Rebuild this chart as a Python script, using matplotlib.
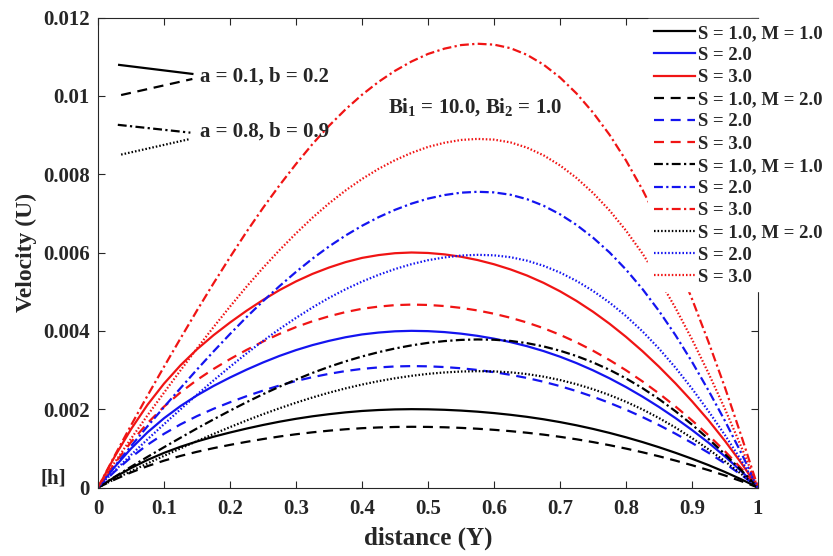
import matplotlib
matplotlib.use("Agg")
import matplotlib.pyplot as plt

plt.rcParams['font.family'] = ['Liberation Serif', 'DejaVu Serif']
plt.rcParams['font.weight'] = 'bold'
plt.rcParams['mathtext.fontset'] = 'custom'
plt.rcParams['mathtext.rm'] = 'Liberation Serif:bold'
plt.rcParams['mathtext.it'] = 'Liberation Serif:bold'
plt.rcParams['mathtext.bf'] = 'Liberation Serif:bold'

# distance Y
Y = [0.0, 0.025, 0.05, 0.075, 0.1, 0.125, 0.15, 0.175, 0.2, 0.225, 0.25, 0.275, 0.3, 0.325,
     0.35, 0.375, 0.4, 0.425, 0.45, 0.475, 0.5, 0.525, 0.55, 0.575, 0.6, 0.625, 0.65, 0.675,
     0.7, 0.725, 0.75, 0.775, 0.8, 0.825, 0.85, 0.875, 0.9, 0.925, 0.95, 0.975, 1.0]

# a = 0.1, b = 0.2, M = 1.0 (solid lines), velocity U
u_s1_m1_ab1 = [0, 0.260e-3, 0.496e-3, 0.704e-3, 0.884e-3, 1.040e-3, 1.176e-3, 1.296e-3, 1.404e-3, 1.504e-3,
               1.596e-3, 1.680e-3, 1.754e-3, 1.818e-3, 1.872e-3, 1.918e-3, 1.954e-3, 1.978e-3, 1.994e-3, 2.000e-3,
               1.996e-3, 1.984e-3, 1.964e-3, 1.936e-3, 1.900e-3, 1.856e-3, 1.804e-3, 1.742e-3, 1.670e-3, 1.588e-3,
               1.496e-3, 1.394e-3, 1.282e-3, 1.160e-3, 1.028e-3, 0.886e-3, 0.734e-3, 0.572e-3, 0.396e-3, 0.206e-3, 0]
u_s2_m1_ab1 = [0, 0.520e-3, 0.992e-3, 1.408e-3, 1.768e-3, 2.080e-3, 2.352e-3, 2.592e-3, 2.808e-3, 3.008e-3,
               3.192e-3, 3.360e-3, 3.508e-3, 3.636e-3, 3.744e-3, 3.836e-3, 3.908e-3, 3.956e-3, 3.988e-3, 4.000e-3,
               3.992e-3, 3.968e-3, 3.928e-3, 3.872e-3, 3.800e-3, 3.712e-3, 3.608e-3, 3.484e-3, 3.340e-3, 3.176e-3,
               2.992e-3, 2.788e-3, 2.564e-3, 2.320e-3, 2.056e-3, 1.772e-3, 1.468e-3, 1.144e-3, 0.792e-3, 0.412e-3, 0]
u_s3_m1_ab1 = [0, 0.780e-3, 1.488e-3, 2.112e-3, 2.652e-3, 3.120e-3, 3.528e-3, 3.888e-3, 4.212e-3, 4.512e-3,
               4.788e-3, 5.040e-3, 5.262e-3, 5.454e-3, 5.616e-3, 5.754e-3, 5.862e-3, 5.934e-3, 5.982e-3, 6.000e-3,
               5.988e-3, 5.952e-3, 5.892e-3, 5.808e-3, 5.700e-3, 5.568e-3, 5.412e-3, 5.226e-3, 5.010e-3, 4.764e-3,
               4.488e-3, 4.182e-3, 3.846e-3, 3.480e-3, 3.084e-3, 2.658e-3, 2.202e-3, 1.716e-3, 1.188e-3, 0.618e-3, 0]
# a = 0.1, b = 0.2, M = 2.0 (dashed lines)
u_s1_m2_ab1 = [0, 0.2015e-3, 0.3844e-3, 0.5456e-3, 0.6851e-3, 0.8060e-3, 0.9114e-3, 1.0044e-3, 1.0881e-3, 1.1656e-3,
               1.2369e-3, 1.3020e-3, 1.3594e-3, 1.4090e-3, 1.4508e-3, 1.4865e-3, 1.5144e-3, 1.5330e-3, 1.5454e-3, 1.5500e-3,
               1.5469e-3, 1.5376e-3, 1.5221e-3, 1.5004e-3, 1.4725e-3, 1.4384e-3, 1.3981e-3, 1.3501e-3, 1.2943e-3, 1.2307e-3,
               1.1594e-3, 1.0804e-3, 0.9936e-3, 0.8990e-3, 0.7967e-3, 0.6867e-3, 0.5689e-3, 0.4433e-3, 0.3069e-3, 0.1597e-3, 0]
u_s2_m2_ab1 = [0, 0.4030e-3, 0.7688e-3, 1.0912e-3, 1.3702e-3, 1.6120e-3, 1.8228e-3, 2.0088e-3, 2.1762e-3, 2.3312e-3,
               2.4738e-3, 2.6040e-3, 2.7187e-3, 2.8179e-3, 2.9016e-3, 2.9729e-3, 3.0287e-3, 3.0659e-3, 3.0907e-3, 3.1000e-3,
               3.0938e-3, 3.0752e-3, 3.0442e-3, 3.0008e-3, 2.9450e-3, 2.8768e-3, 2.7962e-3, 2.7001e-3, 2.5885e-3, 2.4614e-3,
               2.3188e-3, 2.1607e-3, 1.9871e-3, 1.7980e-3, 1.5934e-3, 1.3733e-3, 1.1377e-3, 0.8866e-3, 0.6138e-3, 0.3193e-3, 0]
u_s3_m2_ab1 = [0, 0.6071e-3, 1.1582e-3, 1.6438e-3, 2.0641e-3, 2.4284e-3, 2.7460e-3, 3.0262e-3, 3.2783e-3, 3.5118e-3,
               3.7267e-3, 3.9228e-3, 4.0956e-3, 4.2450e-3, 4.3711e-3, 4.4785e-3, 4.5626e-3, 4.6186e-3, 4.6560e-3, 4.6700e-3,
               4.6607e-3, 4.6326e-3, 4.5859e-3, 4.5206e-3, 4.4365e-3, 4.3338e-3, 4.2123e-3, 4.0676e-3, 3.8995e-3, 3.7080e-3,
               3.4932e-3, 3.2550e-3, 2.9935e-3, 2.7086e-3, 2.4004e-3, 2.0688e-3, 1.7139e-3, 1.3356e-3, 0.9247e-3, 0.4810e-3, 0]
# a = 0.8, b = 0.9, M = 1.0 (dash-dot lines)
u_s1_m1_ab2 = [0, 0.2684e-3, 0.5292e-3, 0.7825e-3, 1.0282e-3, 1.2701e-3, 1.5082e-3, 1.7388e-3, 1.9618e-3, 2.1773e-3,
               2.3814e-3, 2.5742e-3, 2.7556e-3, 2.9257e-3, 3.0807e-3, 3.2206e-3, 3.3453e-3, 3.4549e-3, 3.5494e-3, 3.6288e-3,
               3.6931e-3, 3.7384e-3, 3.7687e-3, 3.7800e-3, 3.7724e-3, 3.7422e-3, 3.6855e-3, 3.6023e-3, 3.4927e-3, 3.3566e-3,
               3.1941e-3, 3.0051e-3, 2.7859e-3, 2.5364e-3, 2.2567e-3, 1.9467e-3, 1.6065e-3, 1.2398e-3, 0.8505e-3, 0.4347e-3, 0]
u_s2_m1_ab2 = [0, 0.5361e-3, 1.0570e-3, 1.5629e-3, 2.0536e-3, 2.5368e-3, 3.0125e-3, 3.4730e-3, 3.9185e-3, 4.3488e-3,
               4.7565e-3, 5.1416e-3, 5.5040e-3, 5.8437e-3, 6.1533e-3, 6.4326e-3, 6.6818e-3, 6.9007e-3, 7.0895e-3, 7.2480e-3,
               7.3764e-3, 7.4670e-3, 7.5274e-3, 7.5500e-3, 7.5349e-3, 7.4745e-3, 7.3613e-3, 7.1952e-3, 6.9762e-3, 6.7044e-3,
               6.3798e-3, 6.0023e-3, 5.5644e-3, 5.0661e-3, 4.5074e-3, 3.8883e-3, 3.2088e-3, 2.4764e-3, 1.6988e-3, 0.8683e-3, 0]
u_s3_m1_ab2 = [0, 0.8044e-3, 1.5862e-3, 2.3453e-3, 3.0818e-3, 3.8069e-3, 4.5207e-3, 5.2118e-3, 5.8803e-3, 6.5261e-3,
               7.1379e-3, 7.7157e-3, 8.2596e-3, 8.7694e-3, 9.2340e-3, 9.6532e-3, 10.0271e-3, 10.3556e-3, 10.6389e-3, 10.8768e-3,
               11.0694e-3, 11.2054e-3, 11.2960e-3, 11.3300e-3, 11.3073e-3, 11.2167e-3, 11.0468e-3, 10.7975e-3, 10.4689e-3, 10.0610e-3,
               9.5739e-3, 9.0074e-3, 8.3502e-3, 7.6024e-3, 6.7640e-3, 5.8350e-3, 4.8153e-3, 3.7162e-3, 2.5493e-3, 1.3030e-3, 0]
# a = 0.8, b = 0.9, M = 2.0 (dotted lines)
u_s1_m2_ab2 = [0, 0.2109e-3, 0.4158e-3, 0.6148e-3, 0.8078e-3, 0.9979e-3, 1.1850e-3, 1.3662e-3, 1.5414e-3, 1.7107e-3,
               1.8711e-3, 2.0226e-3, 2.1651e-3, 2.2988e-3, 2.4206e-3, 2.5304e-3, 2.6285e-3, 2.7146e-3, 2.7888e-3, 2.8512e-3,
               2.9017e-3, 2.9373e-3, 2.9611e-3, 2.9700e-3, 2.9641e-3, 2.9403e-3, 2.8958e-3, 2.8304e-3, 2.7443e-3, 2.6374e-3,
               2.5097e-3, 2.3612e-3, 2.1889e-3, 1.9929e-3, 1.7731e-3, 1.5296e-3, 1.2623e-3, 0.9742e-3, 0.6683e-3, 0.3416e-3, 0]
u_s2_m2_ab2 = [0, 0.4218e-3, 0.8316e-3, 1.2296e-3, 1.6156e-3, 1.9958e-3, 2.3700e-3, 2.7324e-3, 3.0828e-3, 3.4214e-3,
               3.7422e-3, 4.0452e-3, 4.3302e-3, 4.5976e-3, 4.8412e-3, 5.0608e-3, 5.2570e-3, 5.4292e-3, 5.5776e-3, 5.7024e-3,
               5.8034e-3, 5.8746e-3, 5.9222e-3, 5.9400e-3, 5.9282e-3, 5.8806e-3, 5.7916e-3, 5.6608e-3, 5.4886e-3, 5.2748e-3,
               5.0194e-3, 4.7224e-3, 4.3778e-3, 3.9858e-3, 3.5462e-3, 3.0592e-3, 2.5246e-3, 1.9484e-3, 1.3366e-3, 0.6832e-3, 0]
u_s3_m2_ab2 = [0, 0.6319e-3, 1.2460e-3, 1.8423e-3, 2.4208e-3, 2.9904e-3, 3.5511e-3, 4.0940e-3, 4.6191e-3, 5.1264e-3,
               5.6070e-3, 6.0609e-3, 6.4881e-3, 6.8886e-3, 7.2535e-3, 7.5828e-3, 7.8765e-3, 8.1346e-3, 8.3571e-3, 8.5440e-3,
               8.6953e-3, 8.8021e-3, 8.8733e-3, 8.9000e-3, 8.8822e-3, 8.8110e-3, 8.6775e-3, 8.4817e-3, 8.2236e-3, 7.9032e-3,
               7.5205e-3, 7.0755e-3, 6.5593e-3, 5.9719e-3, 5.3133e-3, 4.5835e-3, 3.7825e-3, 2.9192e-3, 2.0025e-3, 1.0235e-3, 0]

labels = ['S = 1.0, M = 1.0', 'S = 2.0', 'S = 3.0',
          'S = 1.0, M = 2.0', 'S = 2.0', 'S = 3.0',
          'S = 1.0, M = 1.0', 'S = 2.0', 'S = 3.0',
          'S = 1.0, M = 2.0', 'S = 2.0', 'S = 3.0']
series = [u_s1_m1_ab1, u_s2_m1_ab1, u_s3_m1_ab1,
          u_s1_m2_ab1, u_s2_m2_ab1, u_s3_m2_ab1,
          u_s1_m1_ab2, u_s2_m1_ab2, u_s3_m1_ab2,
          u_s1_m2_ab2, u_s2_m2_ab2, u_s3_m2_ab2]

xticks = [0, 0.1, 0.2, 0.3, 0.4, 0.5, 0.6, 0.7, 0.8, 0.9, 1]
xticklabels = ['0', '0.1', '0.2', '0.3', '0.4', '0.5', '0.6', '0.7', '0.8', '0.9', '1']
yticks = [0, 0.002, 0.004, 0.006, 0.008, 0.010, 0.012]
yticklabels = ['0', '0.002', '0.004', '0.006', '0.008', '0.01', '0.012']

# small key lines in the upper left (annotation)
key_solid = ([0.032, 0.143], [0.01079, 0.01056])
key_dashed = ([0.035, 0.143], [0.01002, 0.01043])
key_dashdot = ([0.030, 0.140], [0.00926, 0.00906])
key_dotted = ([0.035, 0.140], [0.00850, 0.00890])

colors = ['black', '#1414f0', '#f01414']
styles = {
    'solid': dict(linestyle='-'),
    'dashed': dict(linestyle=(0, (4.5, 3.0))),
    'dashdot': dict(linestyle=(0, (4.0, 1.5, 1.0, 1.5))),
    'dotted': dict(linestyle=(0, (0.7, 0.9))),
}
style_order = ['solid', 'dashed', 'dashdot', 'dotted']

fig = plt.figure(figsize=(8.33, 5.56), dpi=100)
ax = fig.add_axes([98 / 833, 1 - 487.5 / 556, 660 / 833, 470 / 556])

lw = 1.6
for i, (u, lab) in enumerate(zip(series, labels)):
    st = styles[style_order[i // 3]]
    ax.plot(Y, u, color=colors[i % 3], lw=lw, label=lab, **st)

ax.plot(*key_solid, color='black', lw=lw, **styles['solid'])
ax.plot(*key_dashed, color='black', lw=lw, **styles['dashed'])
ax.plot(*key_dashdot, color='black', lw=lw, **styles['dashdot'])
ax.plot(*key_dotted, color='black', lw=lw, **styles['dotted'])

tcol = '#262626'
ax.text(0.155, 0.01048, 'a = 0.1, b = 0.2', fontsize=15, fontweight='bold', va='center', ha='left', color=tcol)
ax.text(0.155, 0.00908, 'a = 0.8, b = 0.9', fontsize=15, fontweight='bold', va='center', ha='left', color=tcol)
ax.text(0.439, 0.00972, r'Bi$_1$ = 10.0, Bi$_2$ = 1.0', fontsize=15, fontweight='bold', va='center', ha='left', color=tcol)

ax.set_xlim(0, 1)
ax.set_ylim(0, 0.012)
ax.set_xticks(xticks)
ax.set_xticklabels(xticklabels)
ax.set_yticks(yticks)
ax.set_yticklabels(yticklabels)
ax.tick_params(direction='in', top=True, right=True, length=5, width=0.8,
               labelsize=15, colors=tcol)
ax.tick_params(axis='y', pad=6)
ax.tick_params(axis='x', pad=8)
for lbl in ax.get_xticklabels() + ax.get_yticklabels():
    lbl.set_fontweight('bold')
for sp in ax.spines.values():
    sp.set_linewidth(0.8)
    sp.set_color(tcol)

ax.set_xlabel('distance (Y)', fontsize=18, fontweight='bold', color=tcol, labelpad=6)
ax.set_ylabel('Velocity (U)', fontsize=17, fontweight='bold', color=tcol, labelpad=4)
fig.text(53 / 833, 1 - 478 / 556, '[h]', fontsize=15, fontweight='bold', ha='center', va='center', color=tcol)

leg = ax.legend(loc='upper left', bbox_to_anchor=(648 / 833, 1 - 19 / 556), bbox_transform=fig.transFigure,
                frameon=True, fancybox=False, edgecolor='white', facecolor='white', framealpha=1.0,
                fontsize=13.5, handlelength=2.2, handletextpad=0.18, labelspacing=0.27,
                borderpad=0.3, borderaxespad=0)
leg.set_zorder(10)
for t in leg.get_texts():
    t.set_fontweight('bold')
    t.set_color(tcol)

fig.savefig('out.png', dpi=100)
